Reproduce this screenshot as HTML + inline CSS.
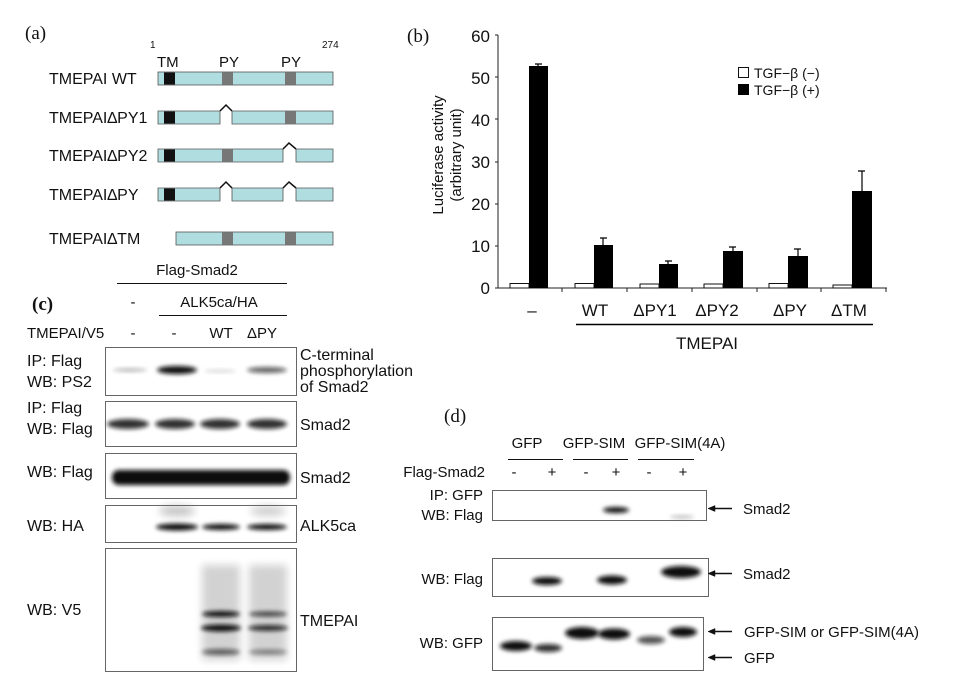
<!DOCTYPE html>
<html><head><meta charset="utf-8"><style>
body{margin:0;background:#fff}
svg{display:block}
text{font-family:"Liberation Sans",sans-serif;fill:#111}
.s{font-family:"Liberation Serif",serif;font-size:19px}
</style></head><body>
<svg width="971" height="686" viewBox="0 0 971 686" xmlns="http://www.w3.org/2000/svg">
<defs>
<filter id="b1" x="-20%" y="-100%" width="140%" height="300%"><feGaussianBlur stdDeviation="2.2"/></filter>
<filter id="b2" x="-20%" y="-100%" width="140%" height="300%"><feGaussianBlur stdDeviation="4"/></filter>
</defs>
<!-- (a) -->
<text class="s" x="25" y="39">(a)</text>
<text x="150" y="48" font-size="10">1</text>
<text x="322" y="48" font-size="10">274</text>
<text x="157" y="67" font-size="15">TM</text>
<text x="219" y="67" font-size="15">PY</text>
<text x="281" y="67" font-size="15">PY</text>
<g font-size="16">
<text x="49" y="84">TMEPAI WT</text>
<text x="49" y="123">TMEPAI∆PY1</text>
<text x="49" y="161">TMEPAI∆PY2</text>
<text x="49" y="200">TMEPAI∆PY</text>
<text x="49" y="244">TMEPAI∆TM</text>
</g>
<g stroke="#555" stroke-width="0.8" fill="#b0dde0">
<rect x="158" y="72" width="175" height="13"/>
<path d="M158 111h62v13h-62z M232 111h101v13h-101z"/>
<path d="M158 149h125v13h-125z M296 149h37v13h-37z"/>
<path d="M158 188h62v13h-62z M232 188h51v13h-51z M296 188h37v13h-37z"/>
<rect x="176" y="232" width="157" height="13"/>
</g>
<g fill="#111"><rect x="164" y="72.5" width="11" height="12"/><rect x="164" y="111.5" width="11" height="12"/><rect x="164" y="149.5" width="11" height="12"/><rect x="164" y="188.5" width="11" height="12"/></g>
<g fill="#777"><rect x="222" y="72.5" width="11" height="12"/><rect x="285" y="72.5" width="11" height="12"/><rect x="285" y="111.5" width="11" height="12"/><rect x="222" y="149.5" width="11" height="12"/><rect x="222" y="232.5" width="11" height="12"/><rect x="285" y="232.5" width="11" height="12"/></g>
<g stroke="#111" stroke-width="1.5" fill="none">
<path d="M220 111l6-6 6 6"/><path d="M283 149l6-6 7 6"/><path d="M220 188l6-6 6 6"/><path d="M283 188l6-6 7 6"/>
</g>
<!-- (b) -->
<text class="s" x="407" y="42">(b)</text>
<g font-size="17" text-anchor="end">
<text x="490" y="42">60</text><text x="490" y="84">50</text><text x="490" y="126">40</text><text x="490" y="168">30</text><text x="490" y="210">20</text><text x="490" y="252">10</text><text x="490" y="294">0</text>
</g>
<g stroke="#222" stroke-width="1" fill="none">
<path d="M498 35V288H887"/>
<path d="M495 35h3M495 77h3M495 119h3M495 162h3M495 204h3M495 246h3M495 288h3"/>
<path d="M562 288v4M627 288v4M692 288v4M757 288v4M821 288v4M886 288v4"/>
</g>
<g transform="translate(447,155) rotate(-90)" font-size="15" text-anchor="middle"><text x="0" y="-4">Luciferase activity</text><text x="0" y="14">(arbitrary unit)</text></g>
<g stroke="#111" fill="#fff"><rect x="510" y="283.5" width="19" height="4.5"/><rect x="575" y="283.5" width="19" height="4.5"/><rect x="640" y="284" width="19" height="4"/><rect x="704" y="284" width="19" height="4"/><rect x="769" y="283.5" width="19" height="4.5"/><rect x="833" y="285" width="19" height="3"/></g>
<g fill="#000"><rect x="529" y="66" width="19" height="222"/><rect x="594" y="245" width="19" height="43"/><rect x="659" y="264" width="19" height="24"/><rect x="723" y="251" width="20" height="37"/><rect x="788" y="256" width="20" height="32"/><rect x="852" y="191" width="20" height="97"/></g>
<g stroke="#000" stroke-width="1.2"><path d="M538 66v-2M535 64h7M603 245v-7M600 238h7M668 264v-3M665 261h7M733 251v-4M729 247h7M798 256v-7M794 249h7M862 191v-20M858 171h7"/></g>
<rect x="738.5" y="67.5" width="10" height="10" fill="#fff" stroke="#111"/>
<rect x="738" y="84" width="11" height="11" fill="#000"/>
<text x="754" y="78" font-size="14">TGF−β (−)</text>
<text x="754" y="95" font-size="14">TGF−β (+)</text>
<g font-size="17" text-anchor="middle"><text x="532" y="316">–</text><text x="595" y="316">WT</text><text x="655" y="316">ΔPY1</text><text x="717" y="316">ΔPY2</text><text x="790" y="316">ΔPY</text><text x="849" y="316">ΔTM</text><text x="707" y="349">TMEPAI</text></g>
<path d="M576 324.5H873" stroke="#000" stroke-width="1.5"/>
<!-- (c) -->
<g font-size="15">
<text x="197" y="275" text-anchor="middle">Flag-Smad2</text>
<text x="219" y="307" text-anchor="middle">ALK5ca/HA</text>
<text x="133" y="307" text-anchor="middle">-</text>
<text x="27" y="338">TMEPAI/V5</text>
<text x="133" y="338" text-anchor="middle">-</text><text x="174" y="338" text-anchor="middle">-</text><text x="221" y="338" text-anchor="middle">WT</text><text x="262" y="338" text-anchor="middle">ΔPY</text>
</g>
<path d="M117 283.5H287M159 315.5H287" stroke="#111" stroke-width="1"/>
<text class="s" x="32" y="310" font-weight="bold" font-size="18">(c)</text>
<g font-size="16">
<text x="27" y="366">IP: Flag</text><text x="27" y="387">WB: PS2</text>
<text x="27" y="413">IP: Flag</text><text x="27" y="434">WB: Flag</text>
<text x="27" y="477">WB: Flag</text>
<text x="27" y="531">WB: HA</text>
<text x="27" y="615">WB: V5</text>
<text x="300" y="360">C-terminal</text><text x="300" y="376">phosphorylation</text><text x="300" y="392">of Smad2</text>
<text x="300" y="430">Smad2</text><text x="300" y="483">Smad2</text><text x="300" y="531">ALK5ca</text><text x="300" y="626">TMEPAI</text>
</g>
<g fill="#111">
<ellipse cx="130" cy="370" rx="17" ry="1.5" opacity=".35" filter="url(#b1)"/>
<ellipse cx="177" cy="370" rx="20" ry="4" filter="url(#b1)"/>
<ellipse cx="220" cy="371" rx="16" ry="1.2" opacity=".2" filter="url(#b1)"/>
<ellipse cx="267" cy="370" rx="20" ry="3" opacity=".65" filter="url(#b1)"/>
<ellipse cx="128" cy="424" rx="21" ry="5" opacity=".85" filter="url(#b1)"/>
<ellipse cx="175" cy="424" rx="20" ry="5" opacity=".85" filter="url(#b1)"/>
<ellipse cx="220" cy="424" rx="20" ry="5" opacity=".85" filter="url(#b1)"/>
<ellipse cx="267" cy="424" rx="20" ry="5" opacity=".85" filter="url(#b1)"/>
<rect x="112" y="470" width="178" height="15" rx="7" filter="url(#b1)"/>
<ellipse cx="177" cy="511" rx="18" ry="5" opacity=".25" filter="url(#b2)"/>
<ellipse cx="268" cy="511" rx="18" ry="5" opacity=".2" filter="url(#b2)"/>
<ellipse cx="177" cy="527" rx="21" ry="3.5" filter="url(#b1)"/>
<ellipse cx="221" cy="527" rx="19" ry="3" filter="url(#b1)"/>
<ellipse cx="267" cy="527" rx="20" ry="3" filter="url(#b1)"/>
<rect x="202" y="565" width="38" height="95" opacity=".18" filter="url(#b2)"/>
<rect x="249" y="565" width="38" height="95" opacity=".18" filter="url(#b2)"/>
<ellipse cx="221" cy="614" rx="19" ry="3" filter="url(#b1)"/>
<ellipse cx="221" cy="628" rx="20" ry="3.5" filter="url(#b1)"/>
<ellipse cx="221" cy="652" rx="19" ry="3" opacity=".6" filter="url(#b1)"/>
<ellipse cx="268" cy="614" rx="19" ry="2.5" opacity=".75" filter="url(#b1)"/>
<ellipse cx="268" cy="628" rx="20" ry="3" opacity=".85" filter="url(#b1)"/>
<ellipse cx="268" cy="652" rx="19" ry="2.5" opacity=".45" filter="url(#b1)"/>
</g>
<g fill="none" stroke="#666" stroke-width="1"><rect x="105.5" y="347.5" width="191" height="48"/><rect x="105.5" y="401.5" width="191" height="45"/><rect x="105.5" y="453.5" width="191" height="45"/><rect x="105.5" y="505.5" width="191" height="37"/><rect x="105.5" y="548.5" width="191" height="123"/></g>
<!-- (d) -->
<text class="s" x="444" y="422">(d)</text>
<g font-size="15">
<text x="527" y="448" text-anchor="middle">GFP</text><text x="594" y="448" text-anchor="middle">GFP-SIM</text><text x="680" y="448" text-anchor="middle">GFP-SIM(4A)</text>
<text x="485" y="477" text-anchor="end">Flag-Smad2</text>
<text x="514" y="477" text-anchor="middle">-</text><text x="552" y="477" text-anchor="middle">+</text><text x="586" y="477" text-anchor="middle">-</text><text x="616" y="477" text-anchor="middle">+</text><text x="649" y="477" text-anchor="middle">-</text><text x="683" y="477" text-anchor="middle">+</text>
<text x="483" y="500" text-anchor="end">IP: GFP</text><text x="483" y="520" text-anchor="end">WB: Flag</text>
<text x="483" y="584" text-anchor="end">WB: Flag</text>
<text x="483" y="648" text-anchor="end">WB: GFP</text>
<text x="743" y="514">Smad2</text><text x="743" y="579">Smad2</text><text x="744" y="637">GFP-SIM or GFP-SIM(4A)</text><text x="744" y="663">GFP</text>
</g>
<path d="M508 459.5h55M573 459.5h55M638 459.5h56" stroke="#111"/>
<g fill="#111">
<ellipse cx="616" cy="510" rx="13" ry="3" filter="url(#b1)"/>
<ellipse cx="682" cy="517" rx="12" ry="1.5" opacity=".3" filter="url(#b1)"/>
<ellipse cx="547" cy="581" rx="15" ry="4" filter="url(#b1)"/>
<ellipse cx="612" cy="580" rx="15" ry="4.5" filter="url(#b1)"/>
<ellipse cx="681" cy="572" rx="20" ry="6" filter="url(#b1)"/>
<ellipse cx="516" cy="646" rx="16" ry="5" filter="url(#b1)"/>
<ellipse cx="548" cy="648" rx="14" ry="4" opacity=".85" filter="url(#b1)"/>
<ellipse cx="582" cy="633" rx="17" ry="6" filter="url(#b1)"/>
<ellipse cx="614" cy="634" rx="16" ry="5.5" filter="url(#b1)"/>
<ellipse cx="651" cy="640" rx="14" ry="4" opacity=".7" filter="url(#b1)"/>
<ellipse cx="683" cy="632" rx="14" ry="5" filter="url(#b1)"/>
</g>
<g fill="none" stroke="#666"><rect x="492.5" y="490.5" width="214" height="30"/><rect x="492.5" y="558.5" width="216" height="38"/><rect x="492.5" y="617.5" width="211" height="53"/></g>
<g stroke="#111" stroke-width="1.6" fill="#111">
<path d="M714 508.5h18M714 573.5h18M714 631.5h18M714 657.5h18" fill="none"/>
<path d="M708 508.5l7-3v6zM708 573.5l7-3v6zM708 631.5l7-3v6zM708 657.5l7-3v6z" stroke-width="0.5"/>
</g>
</svg>
</body></html>
